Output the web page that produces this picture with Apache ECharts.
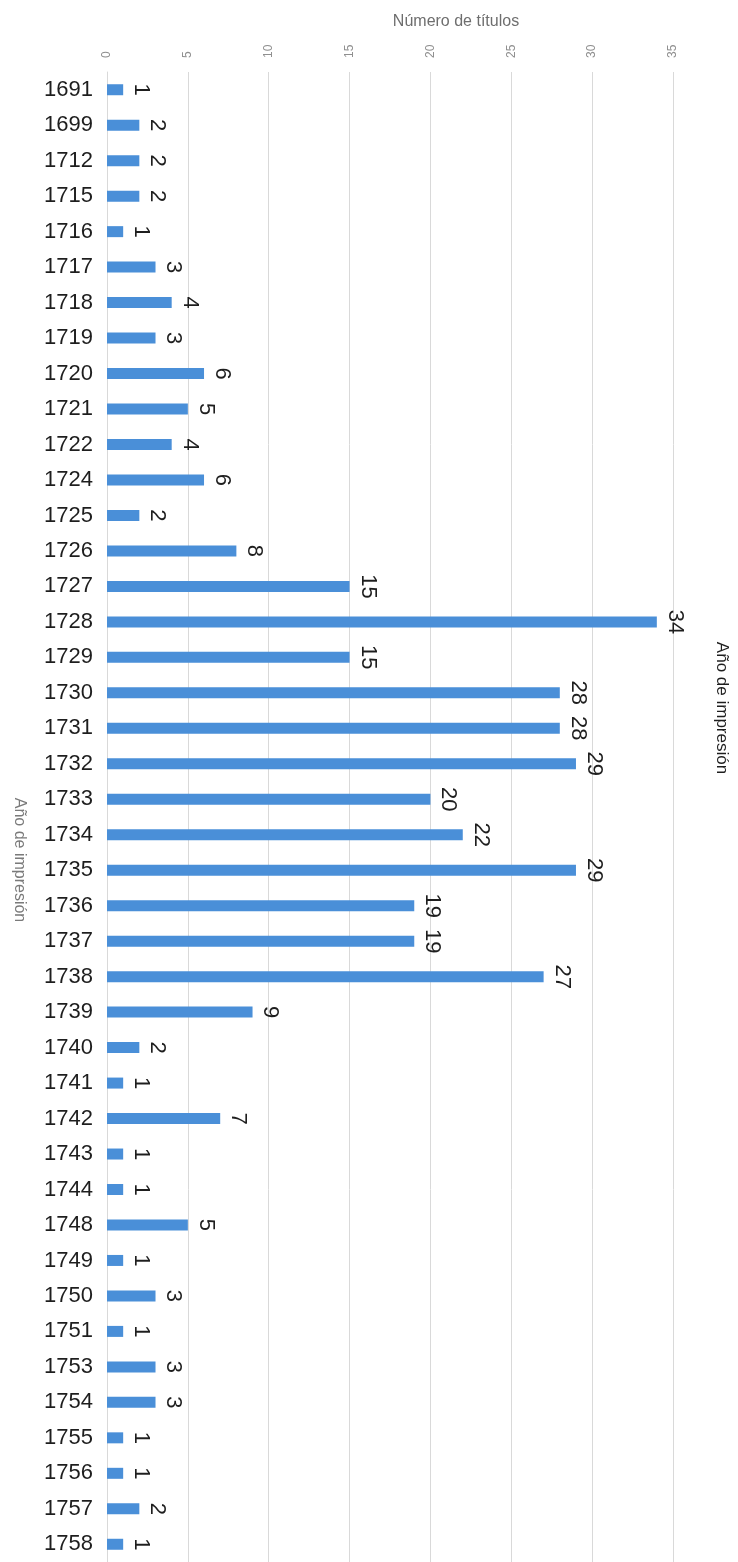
<!DOCTYPE html>
<html>
<head>
<meta charset="utf-8">
<title>Número de títulos por año de impresión</title>
<script src="https://cdn.jsdelivr.net/npm/echarts@6/dist/echarts.min.js"></script>
<style>
  html, body { margin: 0; padding: 0; background: #fff; }
  #chart { width: 738px; height: 1562px; }
</style>
</head>
<body>
<div id="chart"></div>
<script>
// años de impresión (eje de categorías)
const years = ['1691', '1699', '1712', '1715', '1716', '1717', '1718', '1719', '1720', '1721',
  '1722', '1724', '1725', '1726', '1727', '1728', '1729', '1730', '1731', '1732',
  '1733', '1734', '1735', '1736', '1737', '1738', '1739', '1740', '1741', '1742',
  '1743', '1744', '1748', '1749', '1750', '1751', '1753', '1754', '1755', '1756',
  '1757', '1758'];
// número de títulos por año
const titles = [1, 2, 2, 2, 1, 3, 4, 3, 6, 5,
  4, 6, 2, 8, 15, 34, 15, 28, 28, 29,
  20, 22, 29, 19, 19, 27, 9, 2, 1, 7,
  1, 1, 5, 1, 3, 1, 3, 3, 1, 1,
  2, 1];
const seriesName = 'Año de impresión';
const valueAxisName = 'Número de títulos';

const font = "'Liberation Sans', Arial, sans-serif";
const chart = echarts.init(document.getElementById('chart'));

const option = {
  animation: false,
  textStyle: { fontFamily: font },
  grid: { left: 107, right: 65, top: 72, bottom: 0, containLabel: false },
  xAxis: {
    type: 'value',
    position: 'top',
    min: 0,
    max: 35,
    interval: 5,
    axisLine: { show: false },
    axisTick: { show: false },
    axisLabel: { rotate: -90, color: '#8f8f8f', fontSize: 12, margin: 14 },
    splitLine: { lineStyle: { color: '#d9d9d9', width: 1 } }
  },
  yAxis: {
    type: 'category',
    inverse: true,
    data: years,
    axisLine: { lineStyle: { color: '#d9d9d9' } },
    axisTick: { show: false },
    axisLabel: { color: '#1e1e1e', fontSize: 22, margin: 14 }
  },
  series: [{
    name: seriesName,
    type: 'bar',
    data: titles,
    barWidth: 11,
    itemStyle: { color: '#4a8fd8' },
    label: {
      show: true,
      position: 'right',
      rotate: -90,
      align: 'center',
      verticalAlign: 'bottom',
      distance: 7,
      color: '#1e1e1e',
      fontSize: 22
    }
  }],
  graphic: [
    {
      type: 'text', x: 456, y: 22,
      style: { text: valueAxisName, font: '16px ' + font, fill: '#6e6e6e', align: 'center', verticalAlign: 'middle' }
    },
    {
      type: 'text', x: 19, y: 860, rotation: -Math.PI / 2,
      style: { text: seriesName, font: '16px ' + font, fill: '#7a7a7a', align: 'center', verticalAlign: 'middle' }
    },
    {
      type: 'text', x: 722, y: 708, rotation: -Math.PI / 2,
      style: { text: seriesName, font: '17px ' + font, fill: '#1e1e1e', align: 'center', verticalAlign: 'middle' }
    }
  ]
};
chart.setOption(option);
</script>
</body>
</html>
